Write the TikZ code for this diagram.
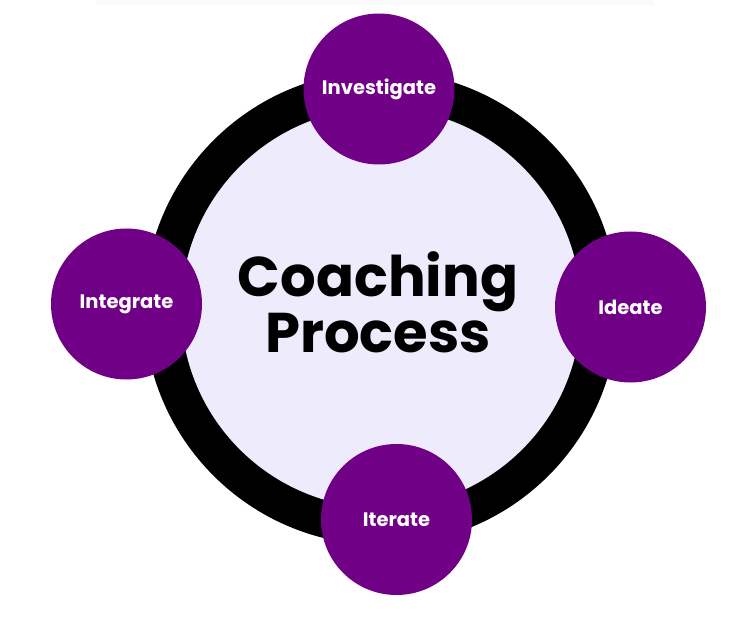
\documentclass[tikz,border=0pt]{standalone}
\usepackage{fontspec}
\setmainfont{Poppins}
\usepackage{tikz}
\usetikzlibrary{positioning}
\definecolor{plum}{RGB}{112,0,134}
\definecolor{lilac}{RGB}{238,235,252}

\begin{document}
\begin{tikzpicture}[x=1pt, y=-1pt,
  hub/.style={circle, draw=black, line width=37pt, fill=lilac, minimum size=437pt},
  title/.style={align=center, font=\fontsize{56}{53}\selectfont\bfseries},
  stage/.style={circle, fill=plum, text=white, minimum size=151pt, inner sep=0pt,
    font=\fontsize{19.5}{22}\selectfont\bfseries}]
  \useasboundingbox (0,0) rectangle (755,620);
  \fill[black!2, rounded corners=3pt] (95,0) rectangle (655,5);
  \node[hub] (core) at (381,308) {};
  \node[title] (name) at (378,302) {Coaching\\Process};
  \node[stage] (inv)   at (379,89)    {Investigate};
  \node[stage] (idea)  at (630.5,307) {Ideate};
  \node[stage] (iter)  at (396.5,519.5) {Iterate};
  \node[stage] (integ) at (126.5,304) {Integrate};
\end{tikzpicture}
\end{document}
